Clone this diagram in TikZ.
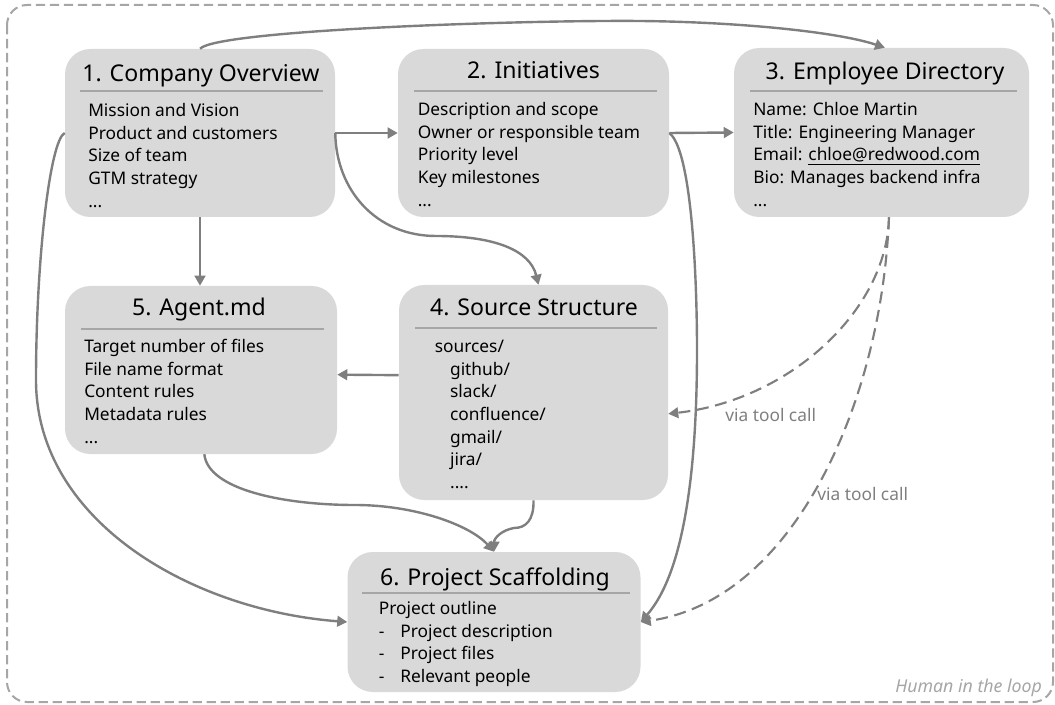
\documentclass[tikz,border=0pt]{standalone}
\usepackage{fontspec}
\setmainfont{Noto Sans}
\usetikzlibrary{arrows.meta}
\tikzset{
  cardbox/.style 2 args={fill=cardfill,draw=none,rounded corners=19pt,minimum width=#1*0.75pt,minimum height=#2*0.75pt,inner sep=0pt},
  cardtitle/.style={anchor=base,inner sep=0pt,text=black,font=\fontsize{17.3}{20}\selectfont},
  cardtext/.style={anchor=north west,inner sep=0pt,align=left,text=black,font=\fontsize{13}{17}\selectfont},
  rule/.style={draw=rulegray,line width=1.5pt},
  link/.style={draw=linkgray,line width=1.8pt,-{Triangle[length=7.5pt,width=8pt]}},
  dashlink/.style={link,line width=1.6pt,dash pattern=on 9pt off 5pt},
  lab/.style={anchor=base west,inner sep=0pt,text=linkgray,font=\fontsize{13}{14}\selectfont},
}
\definecolor{cardfill}{HTML}{D9D9D9}
\definecolor{rulegray}{HTML}{A6A6A6}
\definecolor{linkgray}{HTML}{7F7F7F}
\definecolor{framegray}{HTML}{A6A6A6}
\begin{document}
\begin{tikzpicture}[x=0.75pt,y=-0.75pt]
\useasboundingbox (0,0) rectangle (1055,705);
\draw[framegray,line width=1.5pt,dash pattern=on 7pt off 3.5pt,rounded corners=15pt] (7,5) rectangle (1053,702);

\node[cardbox={270}{168}] (c1) at (200,133) {};
\node[cardbox={271}{168}] (c2) at (533.5,133) {};
\node[cardbox={295}{169}] (c3) at (881.5,132.5) {};
\node[cardbox={272}{168}] (c5) at (201,370) {};
\node[cardbox={269}{215}] (c4) at (533.5,392.5) {};
\node[cardbox={293}{140}] (c6) at (494,622) {};

\draw[rule] (80,91) -- (323,91);
\draw[rule] (414,91) -- (657,91);
\draw[rule] (750,91) -- (1017,91);
\draw[rule] (81,329) -- (324,329);
\draw[rule] (415,328) -- (657,328);
\draw[rule] (362,593) -- (630,593);

\node[cardtitle] (t1) at (201,82) {1. Company Overview};
\node[cardtitle] (t2) at (533.5,79) {2. Initiatives};
\node[cardtitle] (t3) at (885,80) {3. Employee Directory};
\node[cardtitle] (t5) at (199,316) {5. Agent.md};
\node[cardtitle] (t4) at (534,316) {4. Source Structure};
\node[cardtitle] (t6) at (495,585) {6. Project Scaffolding};

\node[cardtext] (b1) at (88,103) {Mission and Vision\\Product and customers\\Size of team\\GTM strategy\\...};
\node[cardtext] (b2) at (417.5,102) {Description and scope\\Owner or responsible team\\Priority level\\Key milestones\\...};
\node[cardtext] (b3) at (753,102) {Name: Chloe Martin\\Title: Engineering Manager\\Email: \underline{chloe@redwood.com}\\Bio: Manages backend infra\\...};
\node[cardtext] (b5) at (84,339) {Target number of files\\File name format\\Content rules\\Metadata rules\\...};
\node[cardtext] (b4) at (434.5,340) {sources/\\\hspace*{11.5pt}github/\\\hspace*{11.5pt}slack/\\\hspace*{11.5pt}confluence/\\\hspace*{11.5pt}gmail/\\\hspace*{11.5pt}jira/\\\hspace*{11.5pt}....};
\node[cardtext] (b6) at (378.5,601) {Project outline\\-\hspace*{12pt}Project description\\-\hspace*{12pt}Project files\\-\hspace*{12pt}Relevant people};

\draw[link] (c1.north) .. controls (218,30) and (520,20) .. (640,21) .. controls (740,22) and (838,32) .. ([xshift=2.6pt]c3.north);
\draw[link] (c1.east) -- (c2.west);
\draw[link] (c2.east) -- (c3.west);
\draw[link] (c1.south) -- ([xshift=-0.75pt]c5.north);
\draw[link] (c1.west) .. controls (50,140) and (36,260) .. (36,380) .. controls (36,520) and (190,610) .. (c6.west);
\draw[link] (c1.east) .. controls (336,190) and (376,236) .. (436,236) .. controls (494,236) and (530,250) .. ([xshift=3.75pt]c4.north);
\draw[link] (c2.east) .. controls (692,150) and (697,280) .. (697,350) .. controls (697,480) and (682,575) .. (c6.east);
\draw[link] ([yshift=13pt]c4.west) -- ([yshift=-3.5pt]c5.east);
\draw[link] ([xshift=2.5pt]c5.south) .. controls (208,490) and (285,505) .. (355,505) .. controls (415,505) and (470,525) .. (c6.north);
\draw[link] (c4.south) .. controls (534,520) and (526,528) .. (514,528) .. controls (502,530) and (494,538) .. (c6.north);
\draw[dashlink] ([xshift=5.6pt]c3.south) .. controls (887,310) and (790,400) .. ([yshift=-16pt]c4.east);
\draw[dashlink] ([xshift=5.6pt]c3.south) .. controls (882,400) and (795,600) .. (c6.east);

\node[lab] (l1) at (725,421) {via tool call};
\node[lab] (l2) at (817,500) {via tool call};
\node[lab,text=framegray,font=\fontsize{13.3}{14}\selectfont\itshape] (hl) at (895,692) {Human in the loop};
\end{tikzpicture}
\end{document}
